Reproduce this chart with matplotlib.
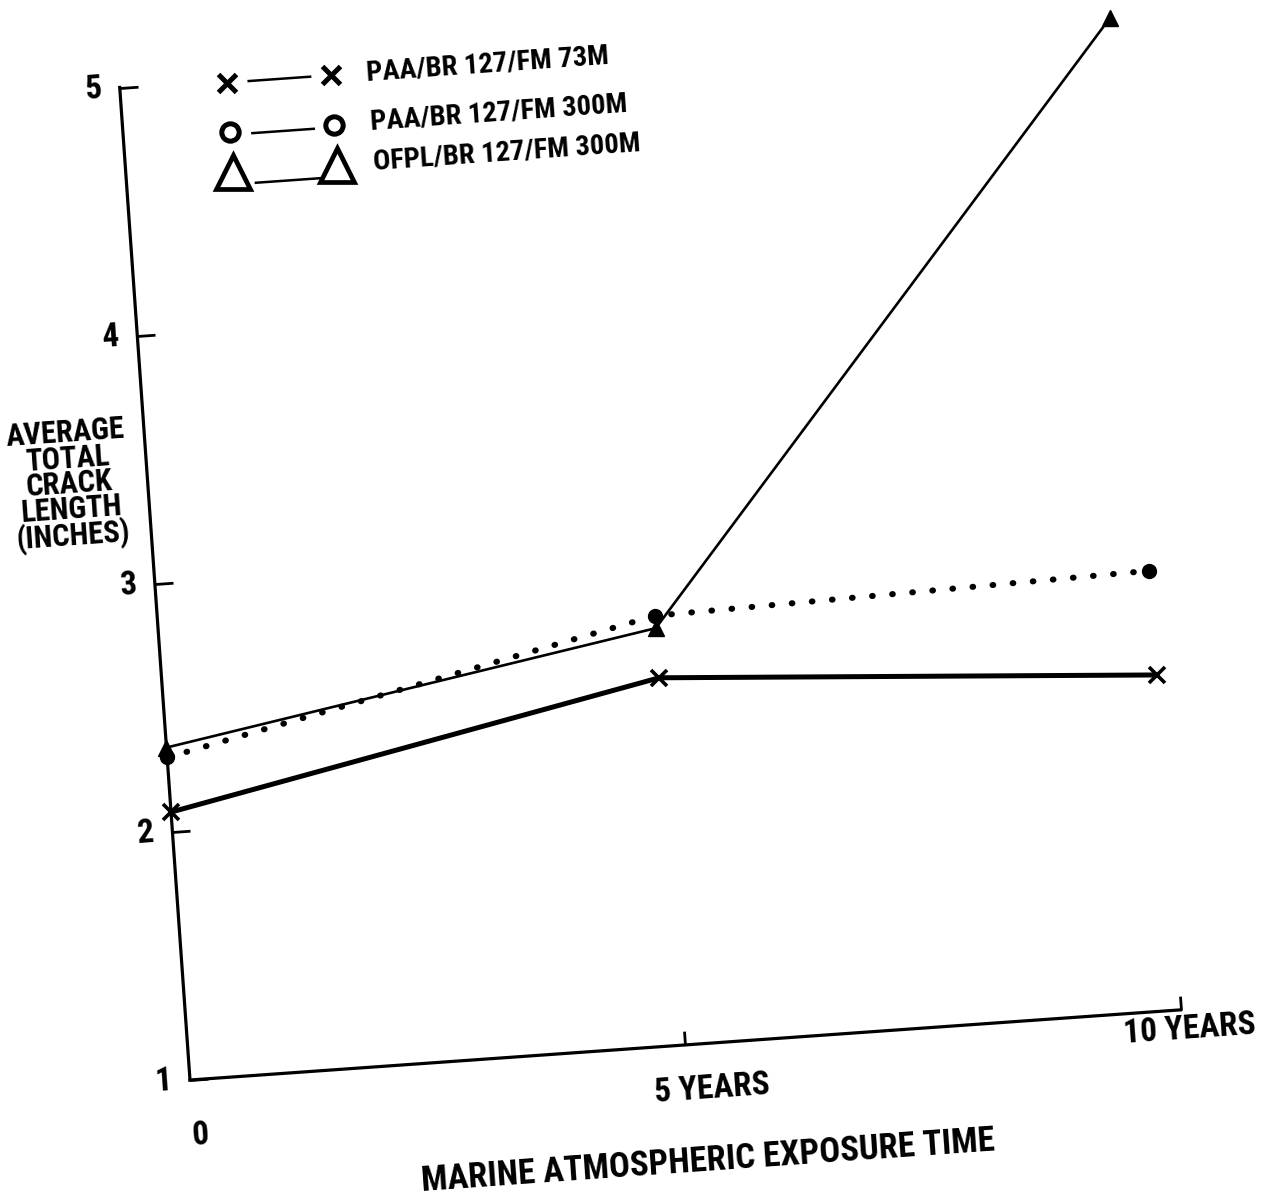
import numpy as np
import matplotlib
matplotlib.use("Agg")
import matplotlib.pyplot as plt
from matplotlib import font_manager
from matplotlib.transforms import Affine2D
import mpl_toolkits.axisartist.floating_axes as floating_axes
from mpl_toolkits.axisartist.grid_finder import FixedLocator, DictFormatter

# data (inches vs years)
years = [0, 5, 10]
crack_paa_73m = [2.08, 2.48, 2.35]
crack_paa_300m = [2.30, 2.73, 2.77]
crack_ofpl_300m = [2.34, 2.68, 5.00]
series_labels = ["PAA/BR 127/FM 73M", "PAA/BR 127/FM 300M", "OFPL/BR 127/FM 300M"]

y_ticks = [1, 2, 3, 4, 5]
x_ticks = [5, 10]
x_tick_labels = ["0", "5 YEARS", "10 YEARS"]

# pick a narrow bold face if there is one
names = {f.name for f in font_manager.fontManager.ttflist}
FONT = "DejaVu Sans"
fscale = 0.82
for cand in ["Liberation Sans Narrow", "Roboto Condensed", "DejaVu Sans Condensed"]:
    if cand in names:
        FONT = cand
        fscale = 1.0
        break

def fs(v):
    return v * fscale

# the scan is tilted ~4 degrees, so draw in a rotated frame
angle = 4.05
px_x, px_y = 99.3, 248.7          # pixels per year / per inch
tr = Affine2D().translate(0, -1).scale(px_x, px_y).rotate_deg(angle)
x_ext = (0, 10.001)
y_ext = (1, 5.001)

fig = plt.figure(figsize=(12.76, 11.98), dpi=100)
W, H = 1276.0, 1198.0
origin = (190.0, 118.0)  # pixel of (0, 1)

corners = tr.transform([[x_ext[0], y_ext[0]], [x_ext[1], y_ext[0]],
                        [x_ext[1], y_ext[1]], [x_ext[0], y_ext[1]]])
xmn, ymn = corners.min(axis=0)
xmx, ymx = corners.max(axis=0)
cx, cy = (xmn + xmx) / 2, (ymn + ymx) / 2
hw, hh = (xmx - xmn) * 1.02 / 2, (ymx - ymn) * 1.02 / 2
rect = [(origin[0] + cx - hw) / W, (origin[1] + cy - hh) / H, 2 * hw / W, 2 * hh / H]

gh = floating_axes.GridHelperCurveLinear(
    tr, extremes=(x_ext[0], x_ext[1], y_ext[0], y_ext[1]),
    grid_locator1=FixedLocator(x_ticks),
    grid_locator2=FixedLocator(y_ticks),
    tick_formatter1=DictFormatter({v: "" for v in x_ticks}),
    tick_formatter2=DictFormatter({v: str(v) for v in y_ticks}))
ax = fig.add_axes(rect, axes_class=floating_axes.FloatingAxes, grid_helper=gh)

ax.axis["top"].set_visible(False)
ax.axis["right"].set_visible(False)
for side in ["left", "bottom"]:
    ax.axis[side].line.set_linewidth(2.3)
    ax.axis[side].major_ticks.set_markeredgewidth(2.0)
ax.axis["left"].major_ticks.set_ticksize(13)
ax.axis["bottom"].major_ticks.set_ticksize(10)
ax.axis["bottom"].major_ticklabels.set_visible(False)
ax.axis["left"].major_ticklabels.set(fontsize=fs(24), fontweight="bold", family=FONT)
ax.axis["left"].major_ticklabels.set_pad(13)

aux = ax.get_aux_axes(tr)
aux.patch = ax.patch
ax.patch.zorder = 0.9

aux.plot(years, crack_paa_73m, color="black", lw=3.6, marker="x", ms=12, mew=2.6,
         clip_on=False)
aux.plot(years, crack_paa_300m, color="black", lw=4.4, linestyle=(0, (0.1, 3.2)),
         dash_capstyle="round", marker="o", ms=10, clip_on=False)
aux.plot(years, crack_ofpl_300m, color="black", lw=1.9, marker="^", ms=12,
         clip_on=False)

# hand-placed legend keys, like the original
leg_rows = [4.99, 4.79, 4.63]
leg_line_dy = [0.0, -0.01, -0.05]
leg_markers = [dict(marker="x", ms=13, mew=3.6),
               dict(marker="o", ms=12.5, mew=3.6, mfc="white"),
               dict(marker="^", ms=24, mew=3.4, mfc="white")]
leg_line_end = [1.92, 1.92, 2.05]
for i, lab in enumerate(series_labels):
    yy = leg_rows[i]
    aux.plot([1.3, leg_line_end[i]], [yy + leg_line_dy[i]] * 2, color="black",
             lw=1.8, clip_on=False)
    aux.plot([1.08, 2.13], [yy, yy], linestyle="none", color="black",
             clip_on=False, **leg_markers[i])
    aux.text(2.49, yy, lab, fontsize=fs(20.5), fontweight="bold", family=FONT,
             rotation=angle, rotation_mode="anchor", ha="left", va="center")

# x tick labels, placed individually as in the scan
x_lab_pos = [(0.06, 0.776), (5.24, 0.817), (10.08, 0.92)]
for (xx, yy), lab in zip(x_lab_pos, x_tick_labels):
    aux.text(xx, yy, lab, fontsize=fs(24), fontweight="bold", family=FONT,
             rotation=angle, rotation_mode="anchor", ha="center", va="center")

aux.text(5.15, 0.525, "MARINE ATMOSPHERIC EXPOSURE TIME", fontsize=fs(25),
         fontweight="bold", family=FONT, rotation=angle, rotation_mode="anchor",
         ha="center", va="center")
aux.text(-0.79, 3.42, "AVERAGE\nTOTAL\nCRACK\nLENGTH\n(INCHES)", fontsize=fs(22),
         fontweight="bold", family=FONT, rotation=angle, rotation_mode="anchor",
         ha="center", va="center", multialignment="center", linespacing=0.82)

fig.savefig("out.png", dpi=100)
